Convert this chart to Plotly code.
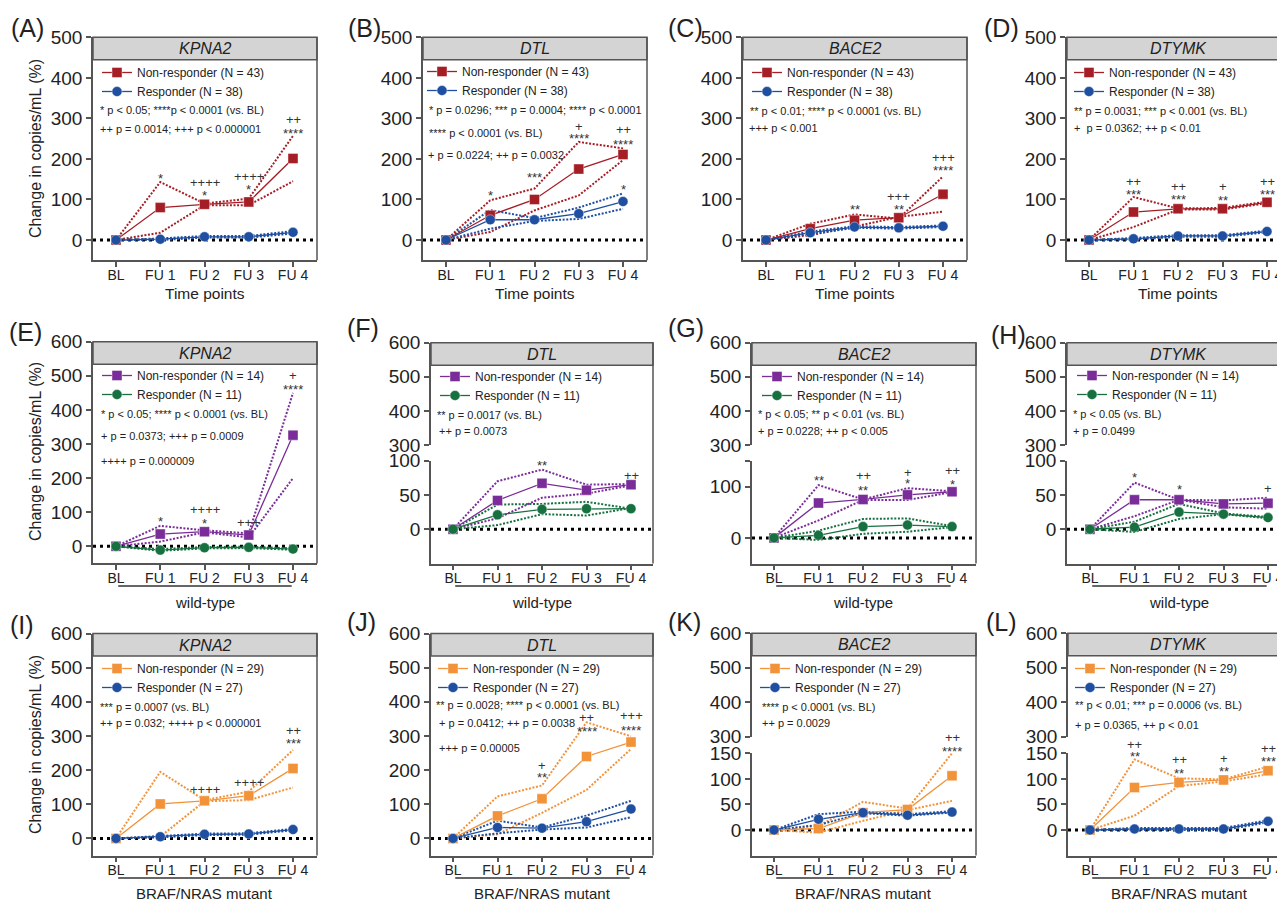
import plotly.graph_objects as go

# ---------------- data ----------------
timepoints = ["BL", "FU 1", "FU 2", "FU 3", "FU 4"]

labels_all = ["Non-responder (N = 43)", "Responder (N = 38)"]
labels_wt = ["Non-responder (N = 14)", "Responder (N = 11)"]
labels_mut = ["Non-responder (N = 29)", "Responder (N = 27)"]

genes = ["KPNA2", "DTL", "BACE2", "DTYMK"]

# (A) KPNA2 all
A_nr_mean = [0, 80, 88, 94, 201]
A_nr_upper = [0, 143, 90, 102, 257]
A_nr_lower = [0, 18, 86, 86, 145]
A_r_mean = [0, 2, 8, 8, 19]
A_r_upper = [0, 4, 10, 10, 22]
A_r_lower = [0, 0, 6, 6, 16]
# (B) DTL all
B_nr_mean = [0, 61, 100, 175, 211]
B_nr_upper = [0, 98, 127, 242, 226]
B_nr_lower = [0, 20, 73, 110, 197]
B_r_mean = [0, 50, 50, 65, 95]
B_r_upper = [0, 74, 54, 80, 115]
B_r_lower = [0, 28, 47, 52, 77]
# (C) BACE2 all
C_nr_mean = [0, 28, 49, 55, 113]
C_nr_upper = [0, 40, 63, 53, 157]
C_nr_lower = [0, 12, 33, 57, 70]
C_r_mean = [0, 18, 32, 30, 34]
C_r_upper = [0, 21, 34, 32, 36]
C_r_lower = [0, 15, 30, 28, 32]
# (D) DTYMK all
D_nr_mean = [0, 69, 77, 77, 93]
D_nr_upper = [0, 106, 78, 79, 95]
D_nr_lower = [0, 32, 75, 75, 91]
D_r_mean = [0, 3, 10, 10, 21]
D_r_upper = [0, 5, 12, 12, 23]
D_r_lower = [0, 1, 8, 8, 19]
# (E) KPNA2 wild-type
E_nr_mean = [0, 36, 43, 33, 326]
E_nr_upper = [0, 60, 47, 38, 450]
E_nr_lower = [0, 14, 41, 26, 200]
E_r_mean = [0, -11, -4, -3, -8]
E_r_upper = [0, -8, -2, -1, -6]
E_r_lower = [0, -13, -6, -5, -10]
# (F) DTL wild-type
F_nr_mean = [0, 42, 67, 57, 65]
F_nr_upper = [0, 70, 87, 65, 66]
F_nr_lower = [0, 16, 46, 52, 64]
F_r_mean = [0, 21, 29, 30, 30]
F_r_upper = [0, 36, 37, 40, 30]
F_r_lower = [0, 6, 22, 20, 31]
# (G) BACE2 wild-type
G_nr_mean = [0, 68, 75, 84, 90]
G_nr_upper = [0, 103, 75, 97, 91]
G_nr_lower = [0, 34, 74, 74, 89]
G_r_mean = [0, 5, 22, 25, 22]
G_r_upper = [0, 14, 37, 38, 23]
G_r_lower = [0, -4, 8, 12, 21]
# (H) DTYMK wild-type
H_nr_mean = [0, 43, 43, 37, 38]
H_nr_upper = [0, 68, 43, 42, 46]
H_nr_lower = [0, 19, 43, 32, 30]
H_r_mean = [0, 3, 25, 22, 17]
H_r_upper = [0, 11, 37, 23, 18]
H_r_lower = [0, -4, 15, 22, 16]
# (I) KPNA2 mutant
I_nr_mean = [0, 101, 110, 125, 205]
I_nr_upper = [0, 195, 112, 137, 259]
I_nr_lower = [0, 5, 109, 112, 149]
I_r_mean = [0, 5, 12, 13, 26]
I_r_upper = [0, 7, 14, 15, 28]
I_r_lower = [0, 3, 10, 11, 24]
# (J) DTL mutant
J_nr_mean = [0, 66, 116, 240, 282]
J_nr_upper = [0, 123, 155, 340, 299]
J_nr_lower = [0, 12, 75, 142, 262]
J_r_mean = [0, 32, 30, 49, 86]
J_r_upper = [0, 52, 32, 67, 110]
J_r_lower = [0, 15, 26, 32, 62]
# (K) BACE2 mutant
K_nr_mean = [0, 3, 34, 40, 106]
K_nr_upper = [0, 8, 55, 42, 150]
K_nr_lower = [0, -5, 18, 39, 57]
K_r_mean = [0, 21, 34, 29, 35]
K_r_upper = [0, 31, 36, 31, 37]
K_r_lower = [0, 10, 33, 28, 34]
# (L) DTYMK mutant
L_nr_mean = [0, 83, 93, 98, 116]
L_nr_upper = [0, 138, 101, 99, 124]
L_nr_lower = [0, 28, 86, 95, 109]
L_r_mean = [0, 2, 2, 2, 17]
L_r_upper = [0, 4, 4, 4, 19]
L_r_lower = [0, 0, 0, 0, 15]

# significance marks: (timepoint index, y value, text)
A_sig = [(1, 160, "*"), (2, 143, "++++"), (2, 116, "*"), (3, 157, "++++"), (3, 131, "*"), (4, 297, "++"), (4, 271, "****")]
B_sig = [(1, 117, "*"), (2, 162, "***"), (3, 281, "+"), (3, 259, "****"), (4, 273, "++"), (4, 242, "****"), (4, 133, "*")]
C_sig = [(2, 83, "**"), (3, 108, "+++"), (3, 83, "**"), (4, 203, "+++"), (4, 180, "****")]
D_sig = [(1, 145, "++"), (1, 119, "***"), (2, 133, "++"), (2, 108, "***"), (3, 133, "+"), (3, 106, "**"), (4, 145, "++"), (4, 120, "***")]
E_sig = [(1, 82, "*"), (2, 107, "++++"), (2, 77, "*"), (3, 69, "+++"), (4, 500, "+"), (4, 470, "****")]
F_sig = [(2, 98, "**"), (4, 79, "++")]
G_sig = [(1, 118, "**"), (2, 121, "++"), (2, 99, "**"), (3, 128, "+"), (3, 112, "*"), (4, 131, "++"), (4, 110, "*")]
H_sig = [(1, 80, "*"), (2, 62, "*"), (4, 60, "+")]
I_sig = [(2, 143, "++++"), (3, 164, "++++"), (4, 317, "++"), (4, 288, "***")]
J_sig = [(2, 214, "+"), (2, 186, "**"), (3, 355, "++"), (3, 323, "****"), (4, 360, "+++"), (4, 325, "****")]
K_sig = [(4, 181, "++"), (4, 160, "****")]
L_sig = [(1, 168, "++"), (1, 149, "**"), (2, 137, "++"), (2, 117, "**"), (3, 140, "+"), (3, 121, "**"), (4, 160, "++"), (4, 140, "***")]

A_stats = ["* p < 0.05; ****p < 0.0001 (vs. BL)", "++ p = 0.0014; +++ p < 0.000001"]
B_stats = ["* p = 0.0296; *** p = 0.0004; **** p < 0.0001", "**** p < 0.0001 (vs. BL)", "+ p = 0.0224; ++ p = 0.0032"]
C_stats = ["** p < 0.01; **** p < 0.0001 (vs. BL)", "+++ p < 0.001"]
D_stats = ["** p = 0.0031; *** p < 0.001 (vs. BL)", "+  p = 0.0362; ++ p < 0.01"]
E_stats = ["* p < 0.05; **** p < 0.0001 (vs. BL)", "+ p = 0.0373; +++ p = 0.0009", "++++ p = 0.000009"]
F_stats = ["** p = 0.0017 (vs. BL)", "++ p = 0.0073"]
G_stats = ["* p < 0.05; ** p < 0.01 (vs. BL)", "+ p = 0.0228; ++ p < 0.005"]
H_stats = ["* p < 0.05 (vs. BL)", "+ p = 0.0499"]
I_stats = ["*** p = 0.0007 (vs. BL)", "++ p = 0.032; ++++ p < 0.000001"]
J_stats = ["** p = 0.0028; **** p < 0.0001 (vs. BL)", "+ p = 0.0412; ++ p = 0.0038", "+++ p = 0.00005"]
K_stats = ["**** p < 0.0001 (vs. BL)", "++ p = 0.0029"]
L_stats = ["** p < 0.01; *** p = 0.0006 (vs. BL)", "+ p = 0.0365, ++ p < 0.01"]

# ---------------- styling / layout geometry ----------------
W, H = 1285, 900
OFF = 8  # page body margin of the html page
FONT = "Liberation Sans, Arial, Helvetica, sans-serif"
AX = "#555555"
TXT = "#222222"
row_colors = [("#a51e26", "#1f4fa0"), ("#7a2d98", "#16703f"), ("#f29239", "#1f4fa0")]
row_labels = [labels_all, labels_wt, labels_mut]


def px(x):
    return (x - OFF) / W


def py(y):
    return 1 - (y - OFF) / H


# (left, BL, FU4, right) in screen px
col_geom = [
    [(93, 116, 293, 317), (423, 446, 623, 647), (743, 766, 943, 967), (1067, 1089, 1267, 1293)],
    [(93, 116, 293, 317), (431, 453, 631, 653), (752, 774, 952, 976), (1067, 1090, 1268, 1293)],
    [(93, 116, 293, 317), (431, 453, 631, 653), (752, 774, 952, 976), (1068, 1090, 1268, 1293)],
]


def seg(lo, hi, top, bot, ticks, ticktext=None):
    return dict(lo=lo, hi=hi, top=top, bot=bot, ticks=ticks,
                ticktext=ticktext if ticktext else [str(t) for t in ticks])


r1 = [seg(-50, 500, 37.3, 260.3, [0, 100, 200, 300, 400, 500])]
up2 = seg(300, 600, 342.7, 445, [300, 400, 500, 600])
up3 = seg(300, 600, 633.3, 736.7, [300, 400, 500, 600])
seg_E = [seg(-50, 600, 341.7, 563.4, [0, 100, 200, 300, 400, 500, 600])]
seg_F = [up2, seg(-50, 100, 460.7, 563.5, [0, 50, 100])]
seg_G = [up2, seg(-50, 150, 461, 563.5, [0, 100, 150], ["0", "100", ""])]
seg_H = [up2, seg(-50, 100, 460.7, 563.5, [0, 50, 100])]
seg_I = [seg(-50, 600, 633.5, 855.5, [0, 100, 200, 300, 400, 500, 600])]
seg_K = [up3, seg(-50, 150, 753.3, 855.6, [0, 50, 100, 150])]

panels = [
    dict(L="(A)", row=0, col=0, d=(A_nr_mean, A_nr_upper, A_nr_lower, A_r_mean, A_r_upper, A_r_lower), sig=A_sig, stats=A_stats, segs=r1,
         lp=(27, 28), leg=(102, 72), sp=[(98, 110), (98, 129)]),
    dict(L="(B)", row=0, col=1, d=(B_nr_mean, B_nr_upper, B_nr_lower, B_r_mean, B_r_upper, B_r_lower), sig=B_sig, stats=B_stats, segs=r1,
         lp=(364, 28), leg=(427, 71), sp=[(427, 110), (427, 133), (426, 155)]),
    dict(L="(C)", row=0, col=2, d=(C_nr_mean, C_nr_upper, C_nr_lower, C_r_mean, C_r_upper, C_r_lower), sig=C_sig, stats=C_stats, segs=r1,
         lp=(685, 28), leg=(752, 72), sp=[(748, 111), (747, 128)]),
    dict(L="(D)", row=0, col=3, d=(D_nr_mean, D_nr_upper, D_nr_lower, D_r_mean, D_r_upper, D_r_lower), sig=D_sig, stats=D_stats, segs=r1,
         lp=(1001, 28), leg=(1074, 72), sp=[(1072, 111), (1072, 128)]),
    dict(L="(E)", row=1, col=0, d=(E_nr_mean, E_nr_upper, E_nr_lower, E_r_mean, E_r_upper, E_r_lower), sig=E_sig, stats=E_stats, segs=seg_E,
         lp=(25, 332), leg=(102, 375), sp=[(99, 414), (99, 436), (99, 461)]),
    dict(L="(F)", row=1, col=1, d=(F_nr_mean, F_nr_upper, F_nr_lower, F_r_mean, F_r_upper, F_r_lower), sig=F_sig, stats=F_stats, segs=seg_F,
         lp=(363, 328), leg=(440, 376), sp=[(435, 415), (437, 431)]),
    dict(L="(G)", row=1, col=2, d=(G_nr_mean, G_nr_upper, G_nr_lower, G_r_mean, G_r_upper, G_r_lower), sig=G_sig, stats=G_stats, segs=seg_G,
         lp=(686, 328), leg=(762, 376), sp=[(756, 414), (756, 431)]),
    dict(L="(H)", row=1, col=3, d=(H_nr_mean, H_nr_upper, H_nr_lower, H_r_mean, H_r_upper, H_r_lower), sig=H_sig, stats=H_stats, segs=seg_H,
         lp=(1008, 335), leg=(1077, 375), sp=[(1071, 414), (1071, 431)]),
    dict(L="(I)", row=2, col=0, d=(I_nr_mean, I_nr_upper, I_nr_lower, I_r_mean, I_r_upper, I_r_lower), sig=I_sig, stats=I_stats, segs=seg_I,
         lp=(22, 625), leg=(102, 668), sp=[(98, 707), (98, 723)]),
    dict(L="(J)", row=2, col=1, d=(J_nr_mean, J_nr_upper, J_nr_lower, J_r_mean, J_r_upper, J_r_lower), sig=J_sig, stats=J_stats, segs=seg_I,
         lp=(361, 622), leg=(438, 668), sp=[(434, 705), (437, 723), (437, 748)]),
    dict(L="(K)", row=2, col=2, d=(K_nr_mean, K_nr_upper, K_nr_lower, K_r_mean, K_r_upper, K_r_lower), sig=K_sig, stats=K_stats, segs=seg_K,
         lp=(684, 622), leg=(760, 668), sp=[(760, 707), (760, 723)]),
    dict(L="(L)", row=2, col=3, d=(L_nr_mean, L_nr_upper, L_nr_lower, L_r_mean, L_r_upper, L_r_lower), sig=L_sig, stats=L_stats, segs=seg_K,
         lp=(1001, 622), leg=(1075, 668), sp=[(1073, 705), (1073, 725)]),
]

fig = go.Figure()
layout = {}
shapes = []
annotations = []
extra_y = 13

for i, p in enumerate(panels):
    n = i + 1
    sfx = "" if n == 1 else str(n)
    xa, ya = "x" + sfx, "y" + sfx
    row, col = p["row"], p["col"]
    left, bl, fu4, right = col_geom[row][col]
    unit = (fu4 - bl) / 4
    xr = [-(bl - left) / unit, 4 + (right - fu4) / unit]
    dom_r = min(px(right), 1.0)
    segs = p["segs"]
    lower = segs[-1]
    top_px = segs[0]["top"]
    nr_c, r_c = row_colors[row]
    legname = "legend" + sfx

    axis_common = dict(showline=True, linecolor=AX, linewidth=1.5, ticks="outside", ticklen=5,
                       tickwidth=1.5, tickcolor=AX, showgrid=False, zeroline=False, fixedrange=True)

    layout["xaxis" + sfx] = dict(domain=[px(left), dom_r], range=xr, anchor=ya, type="category",
                                 categoryorder="array", categoryarray=timepoints, ticklabelstandoff=-4,
                                 tickfont=dict(family=FONT, size=14, color=TXT), **axis_common)
    layout["yaxis" + sfx] = dict(domain=[py(lower["bot"]), py(lower["top"])], range=[lower["lo"], lower["hi"]],
                                 anchor=xa, tickmode="array", tickvals=lower["ticks"], ticktext=lower["ticktext"],
                                 tickfont=dict(family=FONT, size=19, color=TXT), **axis_common)
    if len(segs) == 2:
        up = segs[0]
        ua = "y" + str(extra_y)
        layout["yaxis" + str(extra_y)] = dict(domain=[py(up["bot"]), py(up["top"])], range=[up["lo"], up["hi"]],
                                              anchor=xa, tickmode="array", tickvals=up["ticks"], ticktext=up["ticktext"],
                                              tickfont=dict(family=FONT, size=19, color=TXT), **axis_common)
        fig.add_trace(go.Scatter(x=[None], y=[None], xaxis=xa, yaxis=ua, showlegend=False, hoverinfo="skip"))
        extra_y += 1

    nr_mean, nr_up, nr_lo, r_mean, r_up, r_lo = p["d"]
    dot = "2px,1.6px"
    for vals, c in ((nr_up, nr_c), (nr_lo, nr_c), (r_up, r_c), (r_lo, r_c)):
        fig.add_trace(go.Scatter(x=timepoints, y=vals, xaxis=xa, yaxis=ya, mode="lines",
                                 line=dict(color=c, width=2, dash=dot), showlegend=False, hoverinfo="skip"))
    fig.add_trace(go.Scatter(x=timepoints, y=nr_mean, xaxis=xa, yaxis=ya, mode="lines+markers",
                             name=row_labels[row][0], legend=legname,
                             line=dict(color=nr_c, width=1.3),
                             marker=dict(symbol="square", size=10, color=nr_c, line=dict(color="rgba(255,255,255,0.5)", width=0.8))))
    fig.add_trace(go.Scatter(x=timepoints, y=r_mean, xaxis=xa, yaxis=ya, mode="lines+markers",
                             name=row_labels[row][1], legend=legname,
                             line=dict(color=r_c, width=1.3),
                             marker=dict(symbol="circle", size=10, color=r_c, line=dict(color="rgba(255,255,255,0.5)", width=0.8))))

    # legend
    lx, ly = p["leg"]
    layout[legname] = dict(x=px(lx - 5), y=py(ly - 14), xanchor="left", yanchor="top",
                           bgcolor="rgba(0,0,0,0)", borderwidth=0, itemwidth=30, tracegroupgap=0,
                           font=dict(family=FONT, size=12, color=TXT), itemclick=False, itemdoubleclick=False)

    # zero reference line
    shapes.append(dict(type="line", xref=xa + " domain", x0=0, x1=1, yref=ya, y0=0, y1=0,
                       line=dict(color="black", width=3, dash="3px,4px"), layer="below"))
    # header band
    shapes.append(dict(type="rect", xref=xa + " domain", x0=0, x1=1, yref="paper",
                       y0=py(top_px + 22.5), y1=py(top_px), fillcolor="#d4d4d4",
                       line=dict(color=AX, width=1.5), layer="above"))
    hx = 0.5 if col < 3 else (1178 - left) / (min(right, W + OFF) - left)
    annotations.append(dict(xref=xa + " domain", x=hx, yref="paper", y=py(top_px + 11.5),
                            text="<i>" + genes[col] + "</i>", showarrow=False, xanchor="center", yanchor="middle",
                            font=dict(family=FONT, size=16, color=TXT)))
    # right border
    if col < 3:
        shapes.append(dict(type="line", xref=xa + " domain", x0=1, x1=1, yref="paper",
                           y0=py(lower["bot"]), y1=py(top_px), line=dict(color=AX, width=1.5)))

    # x-axis title / group labels
    if row == 0:
        annotations.append(dict(xref=xa, x=2, yref="paper", y=py(293), text="Time points", showarrow=False,
                                xanchor="center", yanchor="middle", font=dict(family=FONT, size=15.5, color=TXT)))
    else:
        ly_line = 586 if row == 1 else 878
        ly_text = 602 if row == 1 else 893
        shapes.append(dict(type="line", xref=xa, x0=0.05, x1=3.97, yref="paper", y0=py(ly_line), y1=py(ly_line),
                           line=dict(color="#333333", width=1.3)))
        annotations.append(dict(xref=xa, x=2, yref="paper", y=py(ly_text),
                                text="wild-type" if row == 1 else "BRAF/NRAS mutant", showarrow=False,
                                xanchor="center", yanchor="middle", font=dict(family=FONT, size=15, color=TXT)))

    # y-axis title
    if col == 0:
        yc = [149, 452, 745][row]
        annotations.append(dict(xref="paper", x=px(35), yref="paper", y=py(yc), text="Change in copies/mL (%)",
                                textangle=-90, showarrow=False, xanchor="center", yanchor="middle",
                                font=dict(family=FONT, size=16, color=TXT)))

    # panel letter
    annotations.append(dict(xref="paper", x=px(p["lp"][0]), yref="paper", y=py(p["lp"][1]), text=p["L"],
                            showarrow=False, xanchor="center", yanchor="middle",
                            font=dict(family=FONT, size=25, color=TXT)))

    # stats text
    for txt, (sx, sy) in zip(p["stats"], p["sp"]):
        annotations.append(dict(xref="paper", x=px(sx), yref="paper", y=py(sy), text=txt, showarrow=False,
                                xanchor="left", yanchor="middle", font=dict(family=FONT, size=11, color=TXT)))

    # significance marks (on the lower segment's scale; may sit above its range)
    pxu = (lower["bot"] - lower["top"]) / (lower["hi"] - lower["lo"])
    for idx, val, txt in p["sig"]:
        ypix = lower["bot"] - (val - lower["lo"]) * pxu
        annotations.append(dict(xref=xa, x=timepoints[idx], yref="paper", y=py(ypix), text=txt, showarrow=False,
                                xanchor="center", yanchor="middle", yshift=-3 if "*" in txt else 0,
                                font=dict(family=FONT, size=13, color="#333333")))

fig.update_layout(
    width=W, height=H, margin=dict(l=0, r=0, t=0, b=0, pad=0, autoexpand=False),
    paper_bgcolor="white", plot_bgcolor="white",
    font=dict(family=FONT, color=TXT),
    shapes=shapes, annotations=annotations, hovermode=False,
    **layout,
)

fig.write_html("out.html")
